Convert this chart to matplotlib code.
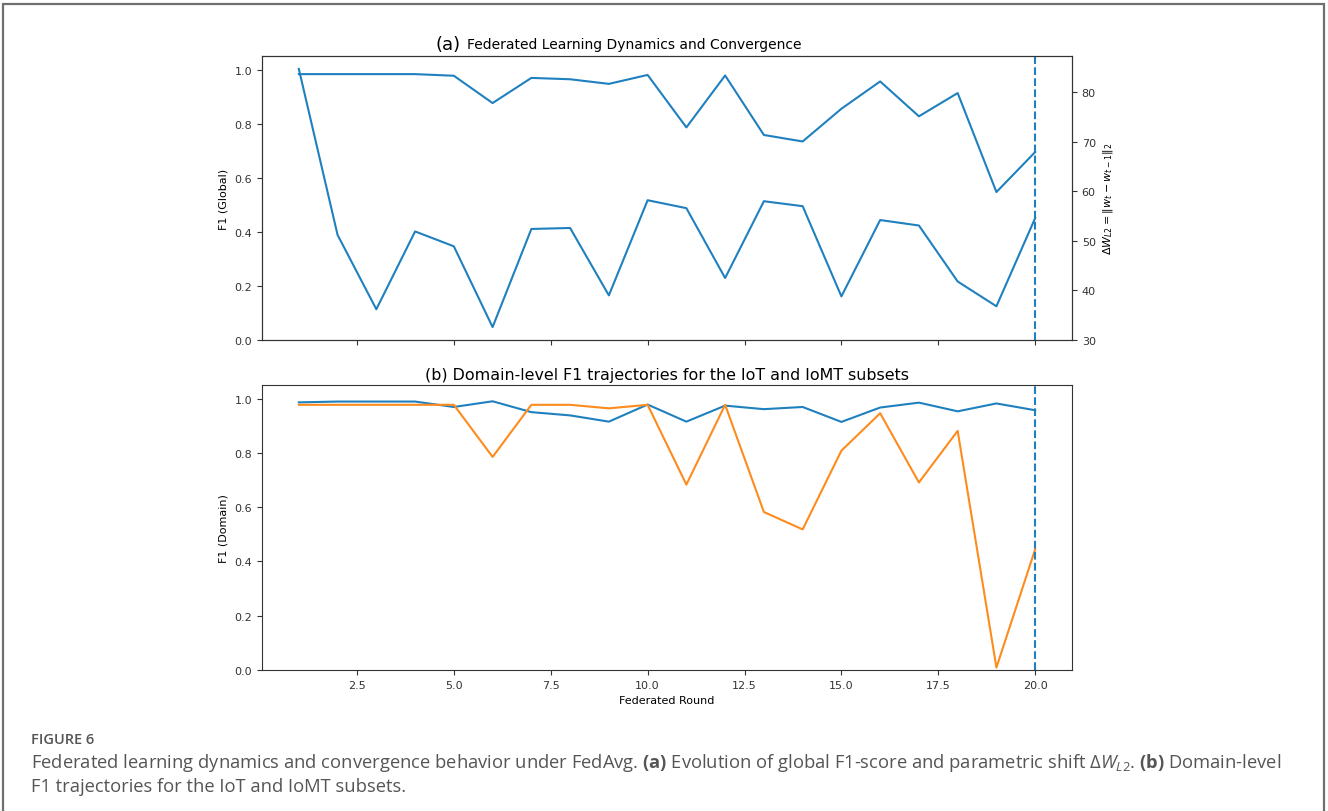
import matplotlib
matplotlib.use("Agg")
import matplotlib.pyplot as plt
from matplotlib.patches import Rectangle

rounds = list(range(1, 21))

# panel (a)
f1_global = [0.983, 0.983, 0.983, 0.983, 0.977, 0.876, 0.969, 0.964, 0.947, 0.980,
             0.786, 0.978, 0.758, 0.734, 0.855, 0.956, 0.827, 0.913, 0.547, 0.695]
delta_w = [84.7, 51.2, 36.2, 51.9, 48.9, 32.6, 52.4, 52.6, 39.0, 58.2,
           56.6, 42.5, 58.0, 57.0, 38.8, 54.2, 53.1, 41.8, 36.8, 54.6]

# panel (b)
f1_iot = [0.986, 0.989, 0.989, 0.989, 0.969, 0.990, 0.950, 0.938, 0.915, 0.978,
          0.915, 0.974, 0.961, 0.969, 0.914, 0.967, 0.985, 0.953, 0.982, 0.957]
f1_iomt = [0.977, 0.977, 0.977, 0.977, 0.977, 0.785, 0.977, 0.977, 0.964, 0.977,
           0.683, 0.977, 0.582, 0.518, 0.808, 0.946, 0.691, 0.881, 0.009, 0.445]

final_round = 20

BLUE = "#1f80bf"
ORANGE = "#fd8b1d"
SPINE = "#333333"
CAP = "#555555"

plt.rcParams["mathtext.rm"] = "Open Sans"
plt.rcParams["mathtext.bf"] = "Open Sans:bold"
plt.rcParams["mathtext.it"] = "Open Sans:italic"

W, H = 1328, 812
fig = plt.figure(figsize=(W / 100, H / 100), dpi=100)

ax_a = fig.add_axes([262 / W, 1 - 341 / H, 810 / W, 284 / H])
ax_b = fig.add_axes([262 / W, 1 - 671 / H, 810 / W, 285 / H], sharex=ax_a)
ax_w = ax_a.twinx()

ax_a.plot(rounds, f1_global, color=BLUE, lw=1.5)
ax_w.plot(rounds, delta_w, color=BLUE, lw=1.5)
ax_a.axvline(final_round, color=BLUE, ls="--", lw=1.5)
ax_a.set_ylim(0, 1.05)
ax_a.set_ylabel("F1 (Global)", fontsize=8)
ax_w.set_ylabel(r"$\Delta W_{L2} = \|w_t - w_{t-1}\|_2$", fontsize=8)
plt.setp(ax_a.get_xticklabels(), visible=False)

ax_a.text(0.2457, 1.012, "(a)", transform=ax_a.transAxes, ha="right",
          va="bottom", fontsize=13)
ax_a.text(0.2531, 1.018, "Federated Learning Dynamics and Convergence",
          transform=ax_a.transAxes, ha="left", va="bottom", fontsize=10)

ax_b.plot(rounds, f1_iot, color=BLUE, lw=1.5)
ax_b.plot(rounds, f1_iomt, color=ORANGE, lw=1.5)
ax_b.axvline(final_round, color=BLUE, ls="--", lw=1.5)
ax_b.set_ylim(0, 1.05)
ax_b.set_ylabel("F1 (Domain)", fontsize=8)
ax_b.set_xlabel("Federated Round", fontsize=8)
ax_b.set_title("(b) Domain-level F1 trajectories for the IoT and IoMT subsets",
               fontsize=11.4, pad=4)

for ax in (ax_a, ax_w, ax_b):
    ax.tick_params(labelsize=8, colors=SPINE)
    for s in ax.spines.values():
        s.set_color(SPINE)

# caption and frame
fig.add_artist(Rectangle((3 / W, -0.05), 1321 / W, 1.05 - 5 / H,
                         transform=fig.transFigure, fill=False,
                         edgecolor="#6f6f6f", lw=1.6))
fig.text(31 / W, 1 - 740 / H, "FIGURE 6", fontsize=10.5, family="Open Sans",
         weight="semibold", color=CAP, va="center")
fig.text(31 / W, 1 - 763 / H,
         "Federated learning dynamics and convergence behavior under FedAvg. "
         r"$\mathbf{(a)}$ Evolution of global F1-score and parametric shift "
         r"$\Delta W_{L2}$. $\mathbf{(b)}$ Domain-level",
         fontsize=13.2, family="Open Sans", color=CAP, va="center",
         math_fontfamily="custom")
fig.text(31 / W, 1 - 787 / H, "F1 trajectories for the IoT and IoMT subsets.",
         fontsize=13.2, family="Open Sans", color=CAP, va="center")

fig.savefig("out.png", dpi=100)
